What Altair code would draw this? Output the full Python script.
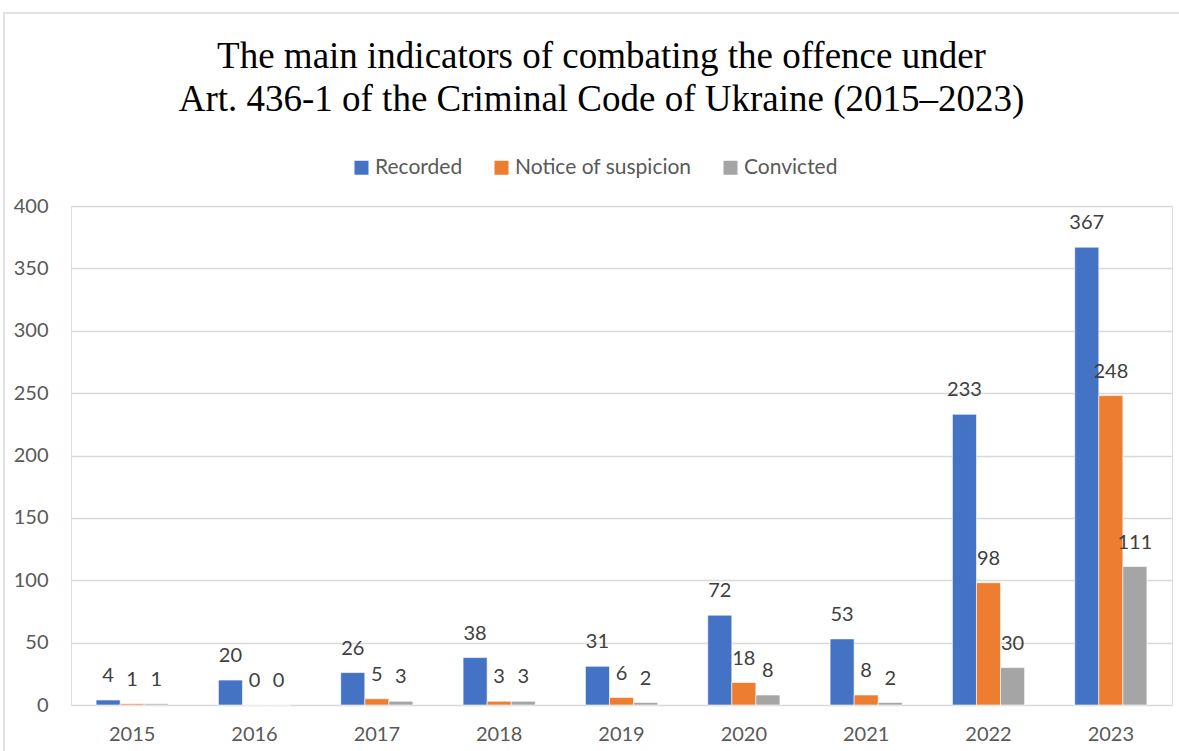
import altair as alt
import pandas as pd

years = ["2015", "2016", "2017", "2018", "2019", "2020", "2021", "2022", "2023"]
recorded = [4, 20, 26, 38, 31, 72, 53, 233, 367]
notice = [1, 0, 5, 3, 6, 18, 8, 98, 248]
convicted = [1, 0, 3, 3, 2, 8, 2, 30, 111]
series = ["Recorded", "Notice of suspicion", "Convicted"]
colors = ["#4472C4", "#ED7D31", "#A5A5A5"]

rows = []
for name, vals in zip(series, [recorded, notice, convicted]):
    for y, v in zip(years, vals):
        rows.append({"year": y, "series": name, "value": v})
df = pd.DataFrame(rows)

W, H = 1101, 499

x = alt.X("year:N", sort=years, title=None,
          scale=alt.Scale(paddingInner=0.41, paddingOuter=0.205),
          axis=alt.Axis(labelAngle=0, labelFont="Lato", labelFontSize=20,
                        labelColor="#595959", labelPadding=19, ticks=False,
                        domain=False, grid=False))
xo = alt.XOffset("series:N", sort=series, scale=alt.Scale(paddingInner=0, paddingOuter=0))
y = alt.Y("value:Q", title=None,
          scale=alt.Scale(domain=[0, 400], nice=False),
          axis=alt.Axis(values=list(range(0, 401, 50)), labelFont="Lato",
                        labelFontSize=20, labelColor="#595959", labelPadding=23,
                        ticks=False, domain=False, gridColor="#d9d9d9",
                        gridWidth=1.5))

bars = alt.Chart(df).mark_bar(stroke="white", strokeWidth=0.6).encode(
    x=x, xOffset=xo, y=y,
    color=alt.Color("series:N", sort=series,
                    scale=alt.Scale(domain=series, range=colors),
                    legend=alt.Legend(title=None, orient="none", direction="horizontal",
                                      legendX=280, legendY=-49, symbolType="square",
                                      symbolSize=196, symbolStrokeWidth=0,
                                      labelFont="Lato", labelFontSize=21,
                                      labelColor="#595959", columnPadding=28,
                                      labelOffset=3, labelLimit=0)),
)

labels = alt.Chart(df).mark_text(font="Lato", fontSize=20, color="#404040",
                                 baseline="alphabetic", dy=-18).encode(
    x=alt.X("year:N", sort=years), xOffset=alt.XOffset("series:N", sort=series),
    y="value:Q", text="value:Q",
)

border = alt.Chart(pd.DataFrame({"a": [0]})).mark_rect(
    filled=False, stroke="#d9d9d9", strokeWidth=1.5, clip=False
).encode(x=alt.value(-67), x2=alt.value(W + 60), y=alt.value(-193), y2=alt.value(H + 100))

chart = alt.layer(border, bars, labels).properties(
    width=W, height=H,
    title=alt.TitleParams(
        ["The main indicators of combating the offence under",
         "Art. 436-1 of the Criminal Code of Ukraine (2015\u20132023)"],
        font="Liberation Serif", fontSize=37, fontWeight="normal", color="#000000",
        lineHeight=43, anchor="middle", frame="group", dx=-20, offset=-107),
    autosize=alt.AutoSizeParams(type="none"),
    padding={"left": 71, "top": 206, "right": 7, "bottom": 46},
).configure_view(stroke=None).configure(background="white")

chart.save("out.html", embed_options={"renderer": "svg", "actions": False})
